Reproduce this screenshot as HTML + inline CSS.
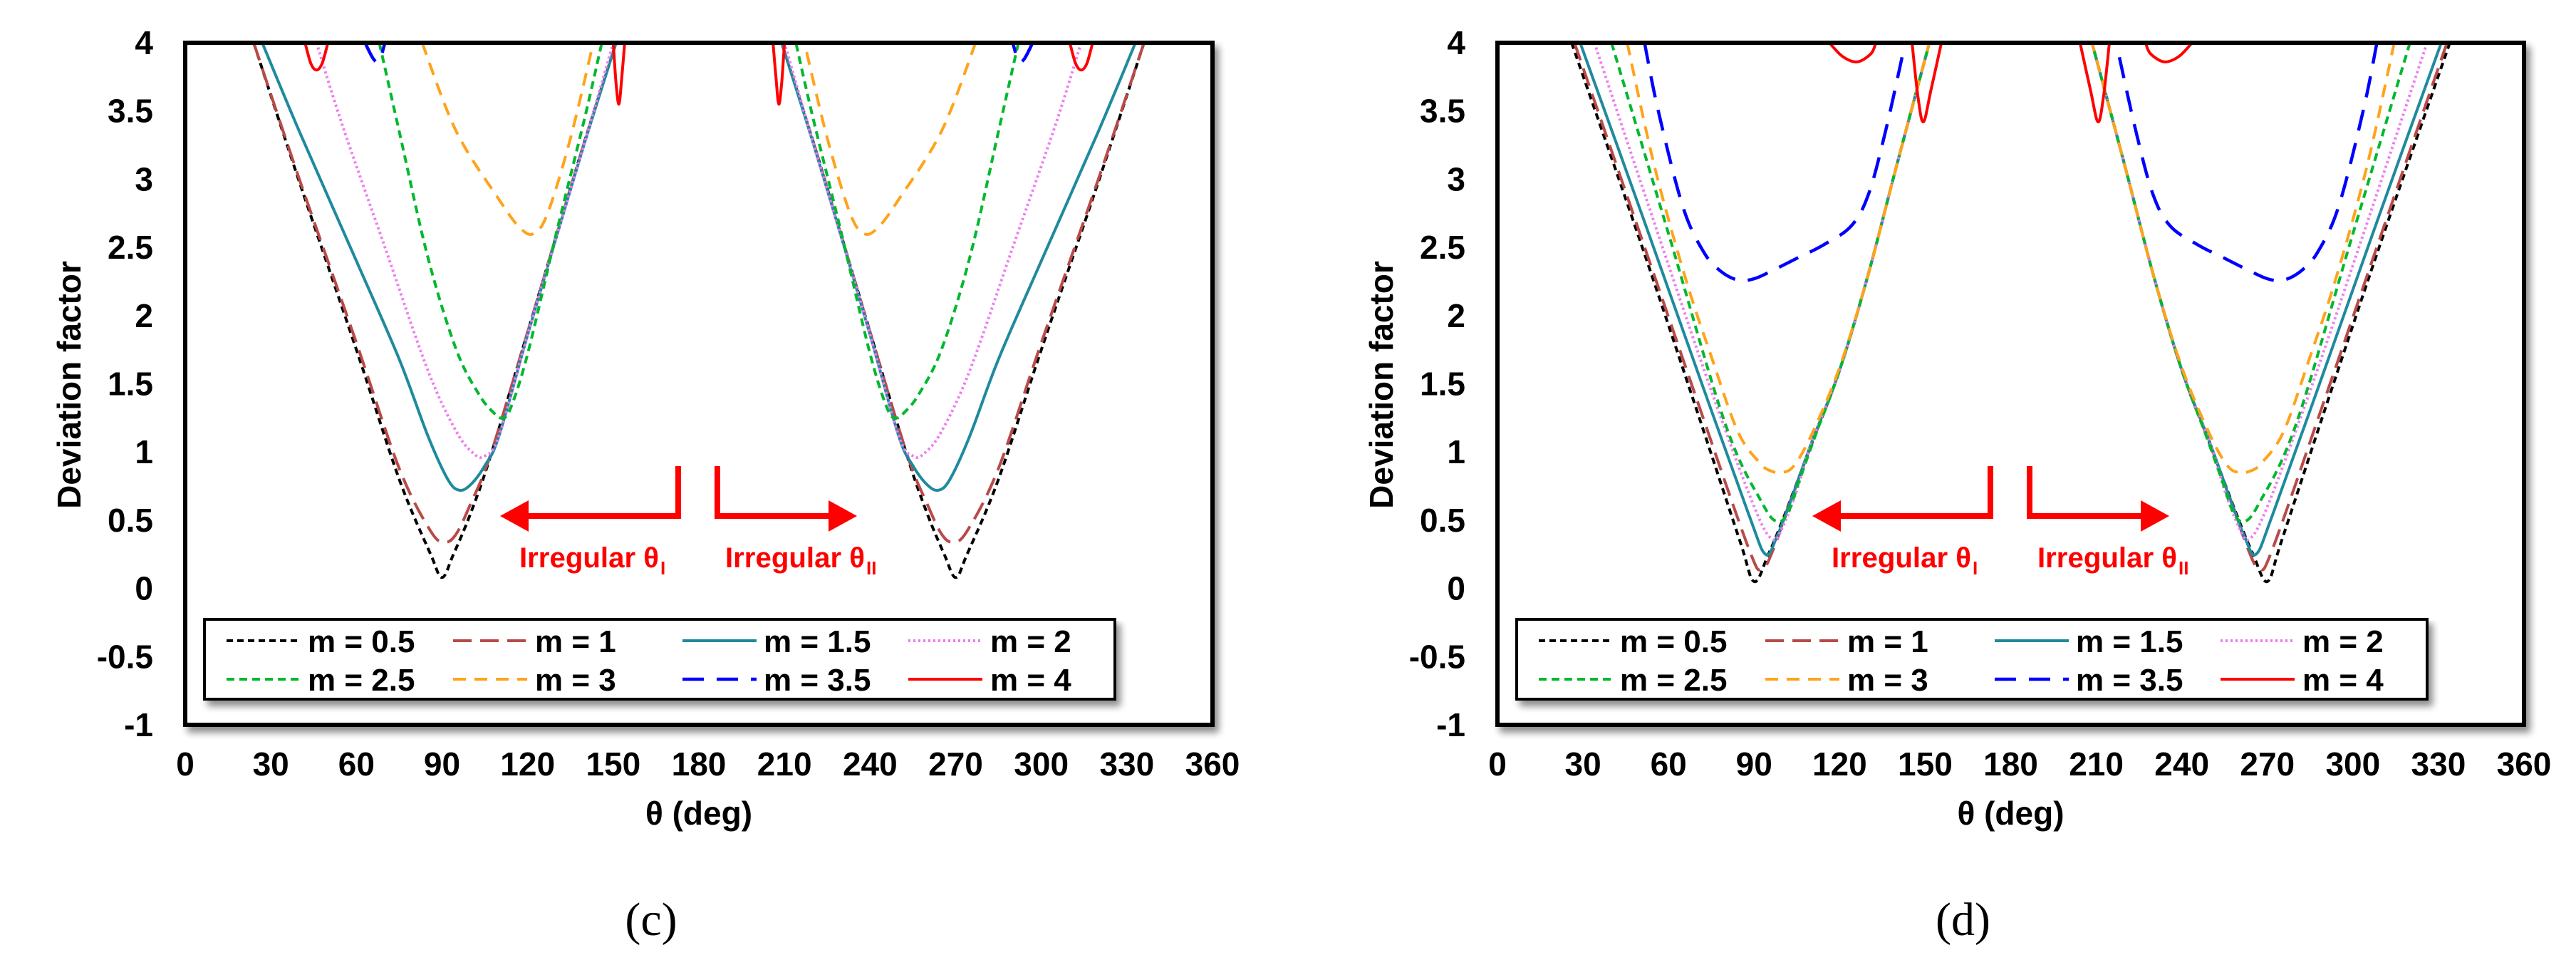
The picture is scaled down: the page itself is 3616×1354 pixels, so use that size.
<!DOCTYPE html>
<html><head><meta charset="utf-8"><style>
html,body{margin:0;padding:0;background:#fff;}
svg{display:block;}
text{font-family:"Liberation Sans",Arial,sans-serif;}
</style></head><body>
<svg id="fig" xmlns="http://www.w3.org/2000/svg" width="3616" height="1354" viewBox="0 0 3616 1354">
<defs>
<filter id="sh" x="-5%" y="-5%" width="112%" height="130%"><feGaussianBlur in="SourceAlpha" stdDeviation="5"/><feOffset dx="6" dy="8"/><feComponentTransfer><feFuncA type="linear" slope="0.45"/></feComponentTransfer><feMerge><feMergeNode/><feMergeNode in="SourceGraphic"/></feMerge></filter>
</defs>
</svg>
<script>
// ---- shared axis data ----
const xTicks = [0,30,60,90,120,150,180,210,240,270,300,330,360];
const yTicks = [4,3.5,3,2.5,2,1.5,1,0.5,0,-0.5,-1];
const yTickLabels = ["4","3.5","3","2.5","2","1.5","1","0.5","0","-0.5","-1"];
const legendLabels = ["m = 0.5","m = 1","m = 1.5","m = 2","m = 2.5","m = 3","m = 3.5","m = 4"];

// ---- panel (c) data: first valley (second valley is its mirror about 180°) ----
const c_m05_t = [24,40,60,75,86,90,94,100,107,120,130,140,151];
const c_m05_v = [4,2.98,1.75,0.8,0.25,0.08,0.25,0.55,0.97,1.88,2.58,3.28,4];
const c_m1_t = [24,40,60,75,86,91,95,100,107,120,130,140,151];
const c_m1_v = [4,3.0,1.8,0.88,0.42,0.34,0.4,0.62,0.98,1.88,2.58,3.28,4];
const c_m15_t = [27,40,60,75,85,92,96,100,105,110,120,130,140,151];
const c_m15_v = [4,3.35,2.4,1.68,1.12,0.8,0.72,0.76,0.9,1.12,1.86,2.57,3.27,4];
const c_m2_t = [46,55,70,85,95,101,105,110,120,130,140,150];
const c_m2_v = [4,3.4,2.5,1.6,1.15,0.99,0.97,1.12,1.86,2.57,3.27,4];
const c_m25_t = [68,75,85,95,103,108,111,114,120,130,140,146];
const c_m25_v = [4,3.35,2.43,1.75,1.42,1.29,1.25,1.32,1.72,2.6,3.45,4];
const c_m3_t = [83,95,110,117,122,127,135,143];
const c_m3_v = [4,3.35,2.85,2.65,2.6,2.75,3.3,4];
const c_m35_t = [63,66,68,70];
const c_m35_v = [4,3.88,3.87,4];
const c_m4_t = [42,44,46,48,50,null,150,151,152,153,154];
const c_m4_v = [4,3.85,3.8,3.85,4,null,4,3.7,3.55,3.75,4];

// ---- panel (d) data ----
const d_m05_t = [26,50,70,85,90,95,100,110,120,130,140,151.5];
const d_m05_v = [4,2.55,1.3,0.35,0.05,0.25,0.5,1.05,1.6,2.3,3.1,4];
const d_m1_t = [27,50,70,88,92.7,97,102,110,120,130,140,151.5];
const d_m1_v = [4,2.6,1.38,0.3,0.14,0.3,0.6,1.05,1.6,2.3,3.1,4];
const d_m15_t = [29,50,70,88,94,98,103,110,120,130,140,151.5];
const d_m15_v = [4,2.78,1.6,0.55,0.25,0.38,0.65,1.06,1.6,2.3,3.1,4];
const d_m2_t = [34,55,75,90,96.4,100,105,110,120,130,140,151.5];
const d_m2_v = [4,2.68,1.45,0.6,0.36,0.45,0.72,1.06,1.6,2.3,3.1,4];
const d_m25_t = [40,60,80,93,98.2,102,106,112,120,130,140,151.5];
const d_m25_v = [4,2.6,1.2,0.62,0.49,0.56,0.8,1.15,1.6,2.3,3.1,4];
const d_m3_t = [45.5,55,66,75,84.3,92,96,100,104,110,120,130,140,151.5];
const d_m3_v = [4,3.1,2.27,1.7,1.15,0.92,0.86,0.85,0.9,1.12,1.62,2.3,3.1,4];
const d_m35_t = [51.6,56.4,65,72.2,78,84.3,90,96.4,105,114.5,124.2,130.3,136.3,143];
const d_m35_v = [4,3.5,2.8,2.47,2.33,2.26,2.27,2.33,2.42,2.52,2.66,2.9,3.37,4];
const d_m4_t = [116.4,121,126.1,131,132.7,null,145.4,147.5,149.4,152,155.7];
const d_m4_v = [4,3.9,3.86,3.92,4,null,4,3.6,3.42,3.65,4];

const styles = [
  {name:"m-0-5", color:"#000000", dash:"9 6", w:4},
  {name:"m-1", color:"#b94a48", dash:"26 12", w:4},
  {name:"m-1-5", color:"#1f8a9e", dash:"", w:4},
  {name:"m-2", color:"#f07af0", dash:"3 4", w:4},
  {name:"m-2-5", color:"#00b82e", dash:"11 7", w:4},
  {name:"m-3", color:"#ffa31a", dash:"18 12", w:4},
  {name:"m-3-5", color:"#0000ff", dash:"30 18", w:4.5},
  {name:"m-4", color:"#ff0000", dash:"", w:4}
];
const panels = [
  {id:"c", left:260, right:1702, label:"(c)", series:[[c_m05_t,c_m05_v],[c_m1_t,c_m1_v],[c_m15_t,c_m15_v],[c_m2_t,c_m2_v],[c_m25_t,c_m25_v],[c_m3_t,c_m3_v],[c_m35_t,c_m35_v],[c_m4_t,c_m4_v]]},
  {id:"d", left:2102, right:3543, label:"(d)", series:[[d_m05_t,d_m05_v],[d_m1_t,d_m1_v],[d_m15_t,d_m15_v],[d_m2_t,d_m2_v],[d_m25_t,d_m25_v],[d_m3_t,d_m3_v],[d_m35_t,d_m35_v],[d_m4_t,d_m4_v]]}
];
const TOP = 60, BOT = 1017, YMIN = -1, YMAX = 4;
const NS = "http://www.w3.org/2000/svg";
const svg = document.getElementById("fig");
function mk(tag, attrs, parent){
  const e = document.createElementNS(NS, tag);
  for (const k in attrs) e.setAttribute(k, attrs[k]);
  (parent||svg).appendChild(e);
  return e;
}
function smoothPath(pts){
  if (pts.length < 2) return "";
  let d = "M" + pts[0][0].toFixed(1) + " " + pts[0][1].toFixed(1);
  for (let i = 0; i < pts.length - 1; i++){
    const p0 = pts[i-1] || pts[i], p1 = pts[i], p2 = pts[i+1], p3 = pts[i+2] || pts[i+1];
    const c1 = [p1[0] + (p2[0]-p0[0])/6, p1[1] + (p2[1]-p0[1])/6];
    const c2 = [p2[0] - (p3[0]-p1[0])/6, p2[1] - (p3[1]-p1[1])/6];
    d += "C" + c1[0].toFixed(1)+" "+c1[1].toFixed(1)+" "+c2[0].toFixed(1)+" "+c2[1].toFixed(1)+" "+p2[0].toFixed(1)+" "+p2[1].toFixed(1);
  }
  return d;
}
panels.forEach(function(P){
  const xs = function(t){ return P.left + (t/360)*(P.right-P.left); };
  const ys = function(v){ return TOP + (YMAX - v)/(YMAX-YMIN)*(BOT-TOP); };
  const g = mk("g", {});
  
  
  const clip = mk("clipPath", {id:"clip"+P.id}, g);
  mk("rect", {x:P.left, y:TOP, width:P.right-P.left, height:BOT-TOP}, clip);
  const frame = mk("rect", {x:P.left, y:TOP, width:P.right-P.left, height:BOT-TOP, fill:"#fff", stroke:"#000", "stroke-width":6, filter:"url(#sh)"}, g);
  
  
  const sg = mk("g", {"clip-path":"url(#clip"+P.id+")"}, g);
  P.series.forEach(function(s, si){
    const st = styles[si];
    const tArr = s[0], vArr = s[1];
    [false, true].forEach(function(mirror){
      let segs = [[]];
      for (let i = 0; i < tArr.length; i++){
        if (tArr[i] === null){ segs.push([]); continue; }
        const t = mirror ? 360 - tArr[i] : tArr[i];
        segs[segs.length-1].push([xs(t), ys(vArr[i])]);
      }
      segs.forEach(function(pts){
        if (pts.length < 2) return;
        const p = mk("path", {d:smoothPath(pts), fill:"none", stroke:st.color, "stroke-width":st.w, "stroke-dasharray":st.dash, "stroke-linejoin":"round"}, sg);
        
        
      });
    });
  });
  mk("rect", {x:P.left, y:TOP, width:P.right-P.left, height:BOT-TOP, fill:"none", stroke:"#000", "stroke-width":6}, g);
  yTicks.forEach(function(v, i){
    const t = mk("text", {x:P.left-45, y:ys(v)+16, "text-anchor":"end", "font-size":46, "font-weight":"bold"}, g);
    t.textContent = yTickLabels[i];
    
    
  });
  xTicks.forEach(function(v){
    const t = mk("text", {x:xs(v), y:1088, "text-anchor":"middle", "font-size":46, "font-weight":"bold"}, g);
    t.textContent = String(v);
    
    
  });
  const yt = mk("text", {x:0, y:0, transform:"translate("+(P.left-147)+",540) rotate(-90)", "text-anchor":"middle", "font-size":46, "font-weight":"bold"}, g);
  yt.textContent = "Deviation factor";
  
  
  const xt = mk("text", {x:(P.left+P.right)/2, y:1157, "text-anchor":"middle", "font-size":46, "font-weight":"bold"}, g);
  xt.textContent = "θ (deg)";
  
  
  const pl = mk("text", {x:(P.left+P.right)/2-67, y:1312, "text-anchor":"middle", "font-size":66}, g);
  pl.setAttribute('style', 'font-family:"Liberation Serif",serif');
  pl.textContent = P.label;
  
  
  const off = P.left - 260;
  const ag = mk("g", {fill:"#ff0000", stroke:"none"}, g);
  
  
  mk("path", {d:"M"+(952+off)+" 654 V724 H"+(738+off), fill:"none", stroke:"#ff0000", "stroke-width":8}, ag);
  mk("polygon", {points:(702+off)+",724 "+(742+off)+",702 "+(742+off)+",746"}, ag);
  mk("path", {d:"M"+(1007+off)+" 654 V724 H"+(1166+off), fill:"none", stroke:"#ff0000", "stroke-width":8}, ag);
  mk("polygon", {points:(1203+off)+",724 "+(1163+off)+",702 "+(1163+off)+",746"}, ag);
  const t1 = mk("text", {x:729+off, y:796, "font-size":40, "font-weight":"bold", fill:"#ff0000", textLength:196, lengthAdjust:"spacingAndGlyphs"}, g);
  t1.textContent = "Irregular θ";
  
  
  const s1 = mk("text", {x:927+off, y:806, "font-size":26, "font-weight":"bold", fill:"#ff0000"}, g);
  s1.textContent = "I";
  const t2 = mk("text", {x:1018+off, y:796, "font-size":40, "font-weight":"bold", fill:"#ff0000", textLength:196, lengthAdjust:"spacingAndGlyphs"}, g);
  t2.textContent = "Irregular θ";
  
  
  const s2 = mk("text", {x:1216+off, y:806, "font-size":26, "font-weight":"bold", fill:"#ff0000"}, g);
  s2.textContent = "II";
  const lg = mk("g", {}, g);
  
  
  mk("rect", {x:287+off, y:869, width:1278, height:112, fill:"#fff", stroke:"#000", "stroke-width":4, filter:"url(#sh)"}, lg);
  const colLine = [318,636,958,1275], colText = [432,751,1072,1390], rowY = [899,953];
  styles.forEach(function(st, i){
    const c = i % 4, r = Math.floor(i/4);
    const e = mk("g", {}, lg);
    
    
    mk("line", {x1:colLine[c]+off, x2:colLine[c]+off+104, y1:rowY[r], y2:rowY[r], stroke:st.color, "stroke-width":st.w, "stroke-dasharray":st.dash}, e);
    const tx = mk("text", {x:colText[c]+off, y:rowY[r]+16, "font-size":44, "font-weight":"bold"}, e);
    tx.textContent = legendLabels[i];
  });
});
</script>
</body></html>
